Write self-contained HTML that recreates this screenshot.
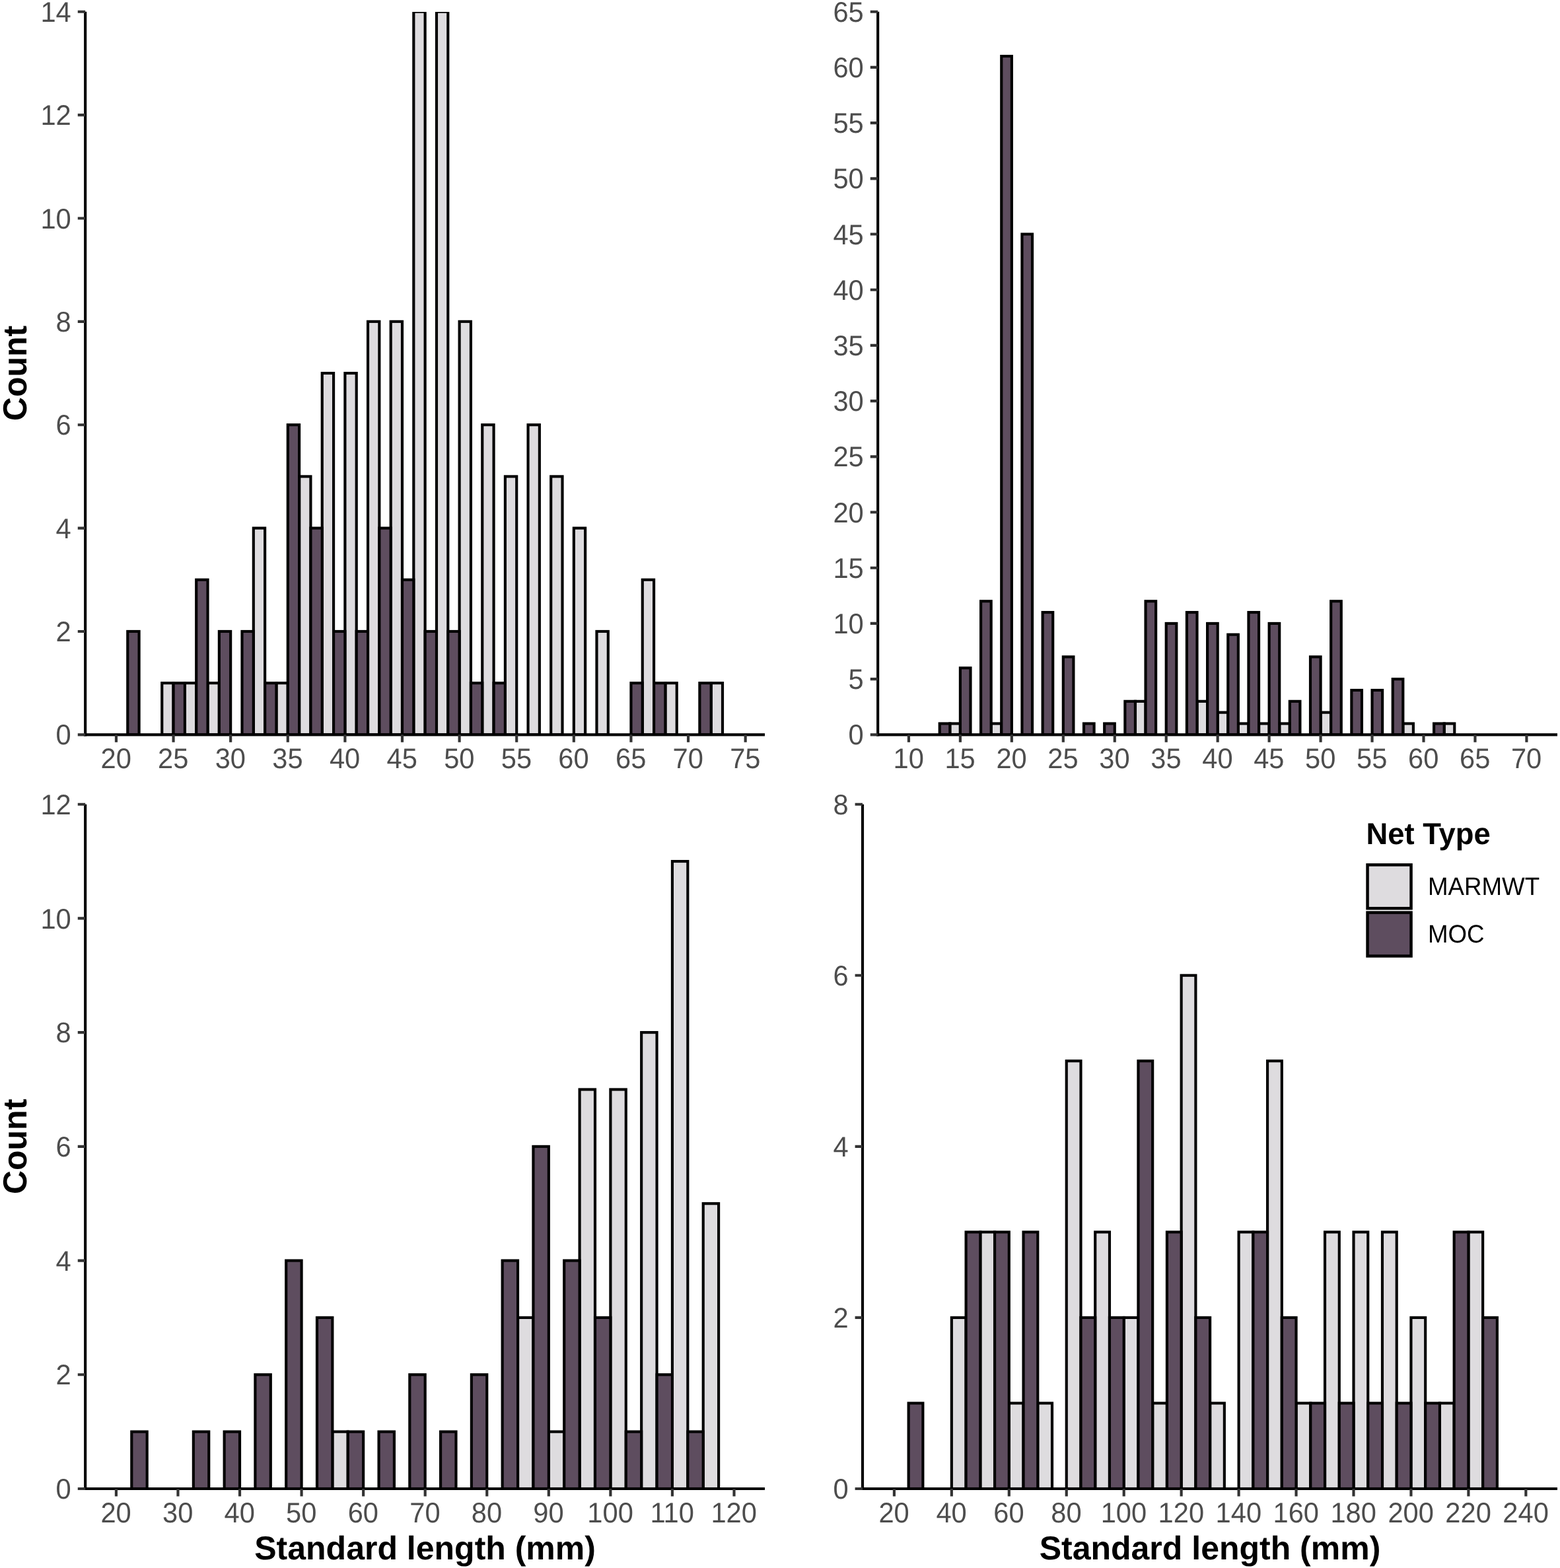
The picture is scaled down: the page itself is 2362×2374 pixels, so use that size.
<!DOCTYPE html>
<html lang="en">
<head>
<meta charset="utf-8">
<title>Standard length histograms by net type</title>
<style>
html,body{margin:0;padding:0;background:#fff;}
body{width:2362px;height:2374px;overflow:hidden;}
svg{display:block;}
text{font-family:"Liberation Sans",sans-serif;text-rendering:geometricPrecision;}
.t{font-size:41.67px;fill:#4D4D4D;}
.h{font-size:50px;font-weight:bold;fill:#000;}
.b rect{stroke:#000;stroke-width:4.15;stroke-linejoin:miter;}
.m{fill:#DEDCDF;}
.o{fill:#5E4D5F;}
.a{stroke:#000;stroke-width:4.15;fill:none;stroke-linecap:butt;}
.k{stroke:#333333;stroke-width:4.15;fill:none;}
</style>
</head>
<body>
<svg width="2362" height="2374" viewBox="0 0 2362 2374" role="img" aria-label="Histograms of standard length (mm) by net type">
<rect x="0" y="0" width="2362" height="2374" fill="#fff"/>
<g id="panel1">
<clipPath id="c1"><rect x="129.15" y="18" width="1028.85" height="1094.35"/></clipPath>
<g class="b" clip-path="url(#c1)">
<rect class="m" x="245.24" y="1034.16" width="17.32" height="78.19"/>
<rect class="m" x="279.88" y="1034.16" width="17.32" height="78.19"/>
<rect class="m" x="314.53" y="1034.16" width="17.32" height="78.19"/>
<rect class="m" x="383.81" y="799.59" width="17.32" height="312.76"/>
<rect class="m" x="418.46" y="1034.16" width="17.32" height="78.19"/>
<rect class="m" x="453.1" y="721.4" width="17.32" height="390.95"/>
<rect class="m" x="487.75" y="565.02" width="17.32" height="547.32"/>
<rect class="m" x="522.39" y="565.02" width="17.32" height="547.32"/>
<rect class="m" x="557.03" y="486.84" width="17.32" height="625.51"/>
<rect class="m" x="591.68" y="486.84" width="17.32" height="625.51"/>
<rect class="m" x="626.32" y="17.7" width="17.32" height="1094.65"/>
<rect class="m" x="660.97" y="17.7" width="17.32" height="1094.65"/>
<rect class="m" x="695.61" y="486.84" width="17.32" height="625.51"/>
<rect class="m" x="730.25" y="643.21" width="17.32" height="469.14"/>
<rect class="m" x="764.9" y="721.4" width="17.32" height="390.95"/>
<rect class="m" x="799.54" y="643.21" width="17.32" height="469.14"/>
<rect class="m" x="834.19" y="721.4" width="17.32" height="390.95"/>
<rect class="m" x="868.83" y="799.59" width="17.32" height="312.76"/>
<rect class="m" x="903.47" y="955.97" width="17.32" height="156.38"/>
<rect class="m" x="972.76" y="877.78" width="17.32" height="234.57"/>
<rect class="m" x="1007.41" y="1034.16" width="17.32" height="78.19"/>
<rect class="m" x="1076.69" y="1034.16" width="17.32" height="78.19"/>
<rect class="o" x="193.27" y="955.97" width="17.32" height="156.38"/>
<rect class="o" x="262.56" y="1034.16" width="17.32" height="78.19"/>
<rect class="o" x="297.2" y="877.78" width="17.32" height="234.57"/>
<rect class="o" x="331.85" y="955.97" width="17.32" height="156.38"/>
<rect class="o" x="366.49" y="955.97" width="17.32" height="156.38"/>
<rect class="o" x="401.14" y="1034.16" width="17.32" height="78.19"/>
<rect class="o" x="435.78" y="643.21" width="17.32" height="469.14"/>
<rect class="o" x="470.42" y="799.59" width="17.32" height="312.76"/>
<rect class="o" x="505.07" y="955.97" width="17.32" height="156.38"/>
<rect class="o" x="539.71" y="955.97" width="17.32" height="156.38"/>
<rect class="o" x="574.36" y="799.59" width="17.32" height="312.76"/>
<rect class="o" x="609" y="877.78" width="17.32" height="234.57"/>
<rect class="o" x="643.64" y="955.97" width="17.32" height="156.38"/>
<rect class="o" x="678.29" y="955.97" width="17.32" height="156.38"/>
<rect class="o" x="712.93" y="1034.16" width="17.32" height="78.19"/>
<rect class="o" x="747.58" y="1034.16" width="17.32" height="78.19"/>
<rect class="o" x="955.44" y="1034.16" width="17.32" height="78.19"/>
<rect class="o" x="990.08" y="1034.16" width="17.32" height="78.19"/>
<rect class="o" x="1059.37" y="1034.16" width="17.32" height="78.19"/>
</g>
<path class="a" d="M129.15 17.7V1114.42"/>
<path class="a" d="M127.08 1112.35H1158"/>
<path class="k" d="M175.95 1112.35v11.4M262.56 1112.35v11.4M349.17 1112.35v11.4M435.78 1112.35v11.4M522.39 1112.35v11.4M609 1112.35v11.4M695.61 1112.35v11.4M782.22 1112.35v11.4M868.83 1112.35v11.4M955.44 1112.35v11.4M1042.05 1112.35v11.4M1128.66 1112.35v11.4M129.15 1112.35h-11.4M129.15 955.97h-11.4M129.15 799.59h-11.4M129.15 643.21h-11.4M129.15 486.84h-11.4M129.15 330.46h-11.4M129.15 174.08h-11.4M129.15 17.7h-11.4"/>
<text class="t" text-anchor="middle" transform="translate(175.65 1162.75) scale(1 1.03)">20</text>
<text class="t" text-anchor="middle" transform="translate(262.26 1162.75) scale(1 1.03)">25</text>
<text class="t" text-anchor="middle" transform="translate(348.87 1162.75) scale(1 1.03)">30</text>
<text class="t" text-anchor="middle" transform="translate(435.48 1162.75) scale(1 1.03)">35</text>
<text class="t" text-anchor="middle" transform="translate(522.09 1162.75) scale(1 1.03)">40</text>
<text class="t" text-anchor="middle" transform="translate(608.7 1162.75) scale(1 1.03)">45</text>
<text class="t" text-anchor="middle" transform="translate(695.31 1162.75) scale(1 1.03)">50</text>
<text class="t" text-anchor="middle" transform="translate(781.92 1162.75) scale(1 1.03)">55</text>
<text class="t" text-anchor="middle" transform="translate(868.53 1162.75) scale(1 1.03)">60</text>
<text class="t" text-anchor="middle" transform="translate(955.14 1162.75) scale(1 1.03)">65</text>
<text class="t" text-anchor="middle" transform="translate(1041.75 1162.75) scale(1 1.03)">70</text>
<text class="t" text-anchor="middle" transform="translate(1128.36 1162.75) scale(1 1.03)">75</text>
<text class="t" text-anchor="end" transform="translate(107.75 1127.45) scale(1 1.03)">0</text>
<text class="t" text-anchor="end" transform="translate(107.75 971.07) scale(1 1.03)">2</text>
<text class="t" text-anchor="end" transform="translate(107.75 814.69) scale(1 1.03)">4</text>
<text class="t" text-anchor="end" transform="translate(107.75 658.31) scale(1 1.03)">6</text>
<text class="t" text-anchor="end" transform="translate(107.75 501.94) scale(1 1.03)">8</text>
<text class="t" text-anchor="end" transform="translate(107.75 345.56) scale(1 1.03)">10</text>
<text class="t" text-anchor="end" transform="translate(107.75 189.18) scale(1 1.03)">12</text>
<text class="t" text-anchor="end" transform="translate(107.75 32.8) scale(1 1.03)">14</text>
</g>
<g id="panel2">
<clipPath id="c2"><rect x="1329.15" y="18" width="1028.85" height="1094.35"/></clipPath>
<g class="b" clip-path="url(#c2)">
<rect class="m" x="1438.31" y="1095.51" width="15.59" height="16.84"/>
<rect class="m" x="1500.68" y="1095.51" width="15.59" height="16.84"/>
<rect class="m" x="1718.95" y="1061.83" width="15.59" height="50.52"/>
<rect class="m" x="1812.5" y="1061.83" width="15.59" height="50.52"/>
<rect class="m" x="1843.68" y="1078.67" width="15.59" height="33.68"/>
<rect class="m" x="1874.86" y="1095.51" width="15.59" height="16.84"/>
<rect class="m" x="1906.04" y="1095.51" width="15.59" height="16.84"/>
<rect class="m" x="1937.23" y="1095.51" width="15.59" height="16.84"/>
<rect class="m" x="1999.59" y="1078.67" width="15.59" height="33.68"/>
<rect class="m" x="2124.32" y="1095.51" width="15.59" height="16.84"/>
<rect class="m" x="2186.68" y="1095.51" width="15.59" height="16.84"/>
<rect class="o" x="1422.72" y="1095.51" width="15.59" height="16.84"/>
<rect class="o" x="1453.9" y="1011.31" width="15.59" height="101.04"/>
<rect class="o" x="1485.09" y="910.26" width="15.59" height="202.09"/>
<rect class="o" x="1516.27" y="85.06" width="15.59" height="1027.29"/>
<rect class="o" x="1547.45" y="354.52" width="15.59" height="757.83"/>
<rect class="o" x="1578.63" y="927.1" width="15.59" height="185.25"/>
<rect class="o" x="1609.82" y="994.46" width="15.59" height="117.89"/>
<rect class="o" x="1641" y="1095.51" width="15.59" height="16.84"/>
<rect class="o" x="1672.18" y="1095.51" width="15.59" height="16.84"/>
<rect class="o" x="1703.36" y="1061.83" width="15.59" height="50.52"/>
<rect class="o" x="1734.54" y="910.26" width="15.59" height="202.09"/>
<rect class="o" x="1765.72" y="943.94" width="15.59" height="168.41"/>
<rect class="o" x="1796.91" y="927.1" width="15.59" height="185.25"/>
<rect class="o" x="1828.09" y="943.94" width="15.59" height="168.41"/>
<rect class="o" x="1859.27" y="960.78" width="15.59" height="151.57"/>
<rect class="o" x="1890.45" y="927.1" width="15.59" height="185.25"/>
<rect class="o" x="1921.63" y="943.94" width="15.59" height="168.41"/>
<rect class="o" x="1952.82" y="1061.83" width="15.59" height="50.52"/>
<rect class="o" x="1984" y="994.46" width="15.59" height="117.89"/>
<rect class="o" x="2015.18" y="910.26" width="15.59" height="202.09"/>
<rect class="o" x="2046.36" y="1044.99" width="15.59" height="67.36"/>
<rect class="o" x="2077.55" y="1044.99" width="15.59" height="67.36"/>
<rect class="o" x="2108.73" y="1028.15" width="15.59" height="84.2"/>
<rect class="o" x="2171.09" y="1095.51" width="15.59" height="16.84"/>
</g>
<path class="a" d="M1329.15 17.7V1114.42"/>
<path class="a" d="M1327.08 1112.35H2358"/>
<path class="k" d="M1375.95 1112.35v11.4M1453.9 1112.35v11.4M1531.86 1112.35v11.4M1609.82 1112.35v11.4M1687.77 1112.35v11.4M1765.72 1112.35v11.4M1843.68 1112.35v11.4M1921.63 1112.35v11.4M1999.59 1112.35v11.4M2077.55 1112.35v11.4M2155.5 1112.35v11.4M2233.45 1112.35v11.4M2311.41 1112.35v11.4M1329.15 1112.35h-11.4M1329.15 1028.15h-11.4M1329.15 943.94h-11.4M1329.15 859.74h-11.4M1329.15 775.53h-11.4M1329.15 691.33h-11.4M1329.15 607.13h-11.4M1329.15 522.92h-11.4M1329.15 438.72h-11.4M1329.15 354.52h-11.4M1329.15 270.31h-11.4M1329.15 186.11h-11.4M1329.15 101.9h-11.4M1329.15 17.7h-11.4"/>
<text class="t" text-anchor="middle" transform="translate(1375.65 1162.75) scale(1 1.03)">10</text>
<text class="t" text-anchor="middle" transform="translate(1453.61 1162.75) scale(1 1.03)">15</text>
<text class="t" text-anchor="middle" transform="translate(1531.56 1162.75) scale(1 1.03)">20</text>
<text class="t" text-anchor="middle" transform="translate(1609.52 1162.75) scale(1 1.03)">25</text>
<text class="t" text-anchor="middle" transform="translate(1687.47 1162.75) scale(1 1.03)">30</text>
<text class="t" text-anchor="middle" transform="translate(1765.42 1162.75) scale(1 1.03)">35</text>
<text class="t" text-anchor="middle" transform="translate(1843.38 1162.75) scale(1 1.03)">40</text>
<text class="t" text-anchor="middle" transform="translate(1921.34 1162.75) scale(1 1.03)">45</text>
<text class="t" text-anchor="middle" transform="translate(1999.29 1162.75) scale(1 1.03)">50</text>
<text class="t" text-anchor="middle" transform="translate(2077.24 1162.75) scale(1 1.03)">55</text>
<text class="t" text-anchor="middle" transform="translate(2155.2 1162.75) scale(1 1.03)">60</text>
<text class="t" text-anchor="middle" transform="translate(2233.15 1162.75) scale(1 1.03)">65</text>
<text class="t" text-anchor="middle" transform="translate(2311.11 1162.75) scale(1 1.03)">70</text>
<text class="t" text-anchor="end" transform="translate(1307.75 1127.45) scale(1 1.03)">0</text>
<text class="t" text-anchor="end" transform="translate(1307.75 1043.25) scale(1 1.03)">5</text>
<text class="t" text-anchor="end" transform="translate(1307.75 959.04) scale(1 1.03)">10</text>
<text class="t" text-anchor="end" transform="translate(1307.75 874.84) scale(1 1.03)">15</text>
<text class="t" text-anchor="end" transform="translate(1307.75 790.63) scale(1 1.03)">20</text>
<text class="t" text-anchor="end" transform="translate(1307.75 706.43) scale(1 1.03)">25</text>
<text class="t" text-anchor="end" transform="translate(1307.75 622.23) scale(1 1.03)">30</text>
<text class="t" text-anchor="end" transform="translate(1307.75 538.02) scale(1 1.03)">35</text>
<text class="t" text-anchor="end" transform="translate(1307.75 453.82) scale(1 1.03)">40</text>
<text class="t" text-anchor="end" transform="translate(1307.75 369.62) scale(1 1.03)">45</text>
<text class="t" text-anchor="end" transform="translate(1307.75 285.41) scale(1 1.03)">50</text>
<text class="t" text-anchor="end" transform="translate(1307.75 201.21) scale(1 1.03)">55</text>
<text class="t" text-anchor="end" transform="translate(1307.75 117) scale(1 1.03)">60</text>
<text class="t" text-anchor="end" transform="translate(1307.75 32.8) scale(1 1.03)">65</text>
</g>
<g id="panel3">
<clipPath id="c3"><rect x="129.15" y="1218" width="1028.85" height="1036"/></clipPath>
<g class="b" clip-path="url(#c3)">
<rect class="m" x="503.36" y="2167.64" width="23.39" height="86.36"/>
<rect class="m" x="784.04" y="1994.92" width="23.39" height="259.07"/>
<rect class="m" x="830.82" y="2167.64" width="23.39" height="86.36"/>
<rect class="m" x="877.6" y="1649.49" width="23.39" height="604.51"/>
<rect class="m" x="924.38" y="1649.49" width="23.39" height="604.51"/>
<rect class="m" x="971.16" y="1563.13" width="23.39" height="690.87"/>
<rect class="m" x="1017.94" y="1304.06" width="23.39" height="949.94"/>
<rect class="m" x="1064.72" y="1822.21" width="23.39" height="431.79"/>
<rect class="o" x="199.29" y="2167.64" width="23.39" height="86.36"/>
<rect class="o" x="292.85" y="2167.64" width="23.39" height="86.36"/>
<rect class="o" x="339.63" y="2167.64" width="23.39" height="86.36"/>
<rect class="o" x="386.41" y="2081.28" width="23.39" height="172.72"/>
<rect class="o" x="433.19" y="1908.57" width="23.39" height="345.43"/>
<rect class="o" x="479.97" y="1994.92" width="23.39" height="259.07"/>
<rect class="o" x="526.75" y="2167.64" width="23.39" height="86.36"/>
<rect class="o" x="573.53" y="2167.64" width="23.39" height="86.36"/>
<rect class="o" x="620.31" y="2081.28" width="23.39" height="172.72"/>
<rect class="o" x="667.09" y="2167.64" width="23.39" height="86.36"/>
<rect class="o" x="713.87" y="2081.28" width="23.39" height="172.72"/>
<rect class="o" x="760.65" y="1908.57" width="23.39" height="345.43"/>
<rect class="o" x="807.43" y="1735.85" width="23.39" height="518.15"/>
<rect class="o" x="854.21" y="1908.57" width="23.39" height="345.43"/>
<rect class="o" x="900.99" y="1994.92" width="23.39" height="259.07"/>
<rect class="o" x="947.77" y="2167.64" width="23.39" height="86.36"/>
<rect class="o" x="994.55" y="2081.28" width="23.39" height="172.72"/>
<rect class="o" x="1041.33" y="2167.64" width="23.39" height="86.36"/>
</g>
<path class="a" d="M129.15 1217.7V2256.07"/>
<path class="a" d="M127.08 2254H1158"/>
<path class="k" d="M175.9 2254v11.4M269.46 2254v11.4M363.02 2254v11.4M456.58 2254v11.4M550.14 2254v11.4M643.7 2254v11.4M737.26 2254v11.4M830.82 2254v11.4M924.38 2254v11.4M1017.94 2254v11.4M1111.5 2254v11.4M129.15 2254h-11.4M129.15 2081.28h-11.4M129.15 1908.57h-11.4M129.15 1735.85h-11.4M129.15 1563.13h-11.4M129.15 1390.42h-11.4M129.15 1217.7h-11.4"/>
<text class="t" text-anchor="middle" transform="translate(175.6 2304.75) scale(1 1.03)">20</text>
<text class="t" text-anchor="middle" transform="translate(269.16 2304.75) scale(1 1.03)">30</text>
<text class="t" text-anchor="middle" transform="translate(362.72 2304.75) scale(1 1.03)">40</text>
<text class="t" text-anchor="middle" transform="translate(456.28 2304.75) scale(1 1.03)">50</text>
<text class="t" text-anchor="middle" transform="translate(549.84 2304.75) scale(1 1.03)">60</text>
<text class="t" text-anchor="middle" transform="translate(643.4 2304.75) scale(1 1.03)">70</text>
<text class="t" text-anchor="middle" transform="translate(736.96 2304.75) scale(1 1.03)">80</text>
<text class="t" text-anchor="middle" transform="translate(830.52 2304.75) scale(1 1.03)">90</text>
<text class="t" text-anchor="middle" transform="translate(924.08 2304.75) scale(1 1.03)">100</text>
<text class="t" text-anchor="middle" transform="translate(1017.64 2304.75) scale(1 1.03)">110</text>
<text class="t" text-anchor="middle" transform="translate(1111.2 2304.75) scale(1 1.03)">120</text>
<text class="t" text-anchor="end" transform="translate(107.75 2269.1) scale(1 1.03)">0</text>
<text class="t" text-anchor="end" transform="translate(107.75 2096.38) scale(1 1.03)">2</text>
<text class="t" text-anchor="end" transform="translate(107.75 1923.67) scale(1 1.03)">4</text>
<text class="t" text-anchor="end" transform="translate(107.75 1750.95) scale(1 1.03)">6</text>
<text class="t" text-anchor="end" transform="translate(107.75 1578.23) scale(1 1.03)">8</text>
<text class="t" text-anchor="end" transform="translate(107.75 1405.52) scale(1 1.03)">10</text>
<text class="t" text-anchor="end" transform="translate(107.75 1232.8) scale(1 1.03)">12</text>
</g>
<g id="panel4">
<clipPath id="c4"><rect x="1306" y="1218" width="1052" height="1036"/></clipPath>
<g class="b" clip-path="url(#c4)">
<rect class="m" x="1440.85" y="1994.92" width="21.74" height="259.07"/>
<rect class="m" x="1484.33" y="1865.39" width="21.74" height="388.61"/>
<rect class="m" x="1527.8" y="2124.46" width="21.74" height="129.54"/>
<rect class="m" x="1571.28" y="2124.46" width="21.74" height="129.54"/>
<rect class="m" x="1614.75" y="1606.31" width="21.74" height="647.69"/>
<rect class="m" x="1658.23" y="1865.39" width="21.74" height="388.61"/>
<rect class="m" x="1701.7" y="1994.92" width="21.74" height="259.07"/>
<rect class="m" x="1745.18" y="2124.46" width="21.74" height="129.54"/>
<rect class="m" x="1788.65" y="1476.78" width="21.74" height="777.22"/>
<rect class="m" x="1832.12" y="2124.46" width="21.74" height="129.54"/>
<rect class="m" x="1875.6" y="1865.39" width="21.74" height="388.61"/>
<rect class="m" x="1919.08" y="1606.31" width="21.74" height="647.69"/>
<rect class="m" x="1962.55" y="2124.46" width="21.74" height="129.54"/>
<rect class="m" x="2006.03" y="1865.39" width="21.74" height="388.61"/>
<rect class="m" x="2049.5" y="1865.39" width="21.74" height="388.61"/>
<rect class="m" x="2092.98" y="1865.39" width="21.74" height="388.61"/>
<rect class="m" x="2136.45" y="1994.92" width="21.74" height="259.07"/>
<rect class="m" x="2179.93" y="2124.46" width="21.74" height="129.54"/>
<rect class="m" x="2223.4" y="1865.39" width="21.74" height="388.61"/>
<rect class="o" x="1375.64" y="2124.46" width="21.74" height="129.54"/>
<rect class="o" x="1462.59" y="1865.39" width="21.74" height="388.61"/>
<rect class="o" x="1506.06" y="1865.39" width="21.74" height="388.61"/>
<rect class="o" x="1549.54" y="1865.39" width="21.74" height="388.61"/>
<rect class="o" x="1636.49" y="1994.92" width="21.74" height="259.07"/>
<rect class="o" x="1679.96" y="1994.92" width="21.74" height="259.07"/>
<rect class="o" x="1723.44" y="1606.31" width="21.74" height="647.69"/>
<rect class="o" x="1766.91" y="1865.39" width="21.74" height="388.61"/>
<rect class="o" x="1810.39" y="1994.92" width="21.74" height="259.07"/>
<rect class="o" x="1897.34" y="1865.39" width="21.74" height="388.61"/>
<rect class="o" x="1940.81" y="1994.92" width="21.74" height="259.07"/>
<rect class="o" x="1984.29" y="2124.46" width="21.74" height="129.54"/>
<rect class="o" x="2027.76" y="2124.46" width="21.74" height="129.54"/>
<rect class="o" x="2071.24" y="2124.46" width="21.74" height="129.54"/>
<rect class="o" x="2114.71" y="2124.46" width="21.74" height="129.54"/>
<rect class="o" x="2158.19" y="2124.46" width="21.74" height="129.54"/>
<rect class="o" x="2201.66" y="1865.39" width="21.74" height="388.61"/>
<rect class="o" x="2245.14" y="1994.92" width="21.74" height="259.07"/>
</g>
<path class="a" d="M1306 1217.7V2256.07"/>
<path class="a" d="M1303.92 2254H2358"/>
<path class="k" d="M1353.9 2254v11.4M1440.85 2254v11.4M1527.8 2254v11.4M1614.75 2254v11.4M1701.7 2254v11.4M1788.65 2254v11.4M1875.6 2254v11.4M1962.55 2254v11.4M2049.5 2254v11.4M2136.45 2254v11.4M2223.4 2254v11.4M2310.35 2254v11.4M1306 2254h-11.4M1306 1994.92h-11.4M1306 1735.85h-11.4M1306 1476.78h-11.4M1306 1217.7h-11.4"/>
<text class="t" text-anchor="middle" transform="translate(1353.6 2304.75) scale(1 1.03)">20</text>
<text class="t" text-anchor="middle" transform="translate(1440.55 2304.75) scale(1 1.03)">40</text>
<text class="t" text-anchor="middle" transform="translate(1527.5 2304.75) scale(1 1.03)">60</text>
<text class="t" text-anchor="middle" transform="translate(1614.45 2304.75) scale(1 1.03)">80</text>
<text class="t" text-anchor="middle" transform="translate(1701.4 2304.75) scale(1 1.03)">100</text>
<text class="t" text-anchor="middle" transform="translate(1788.35 2304.75) scale(1 1.03)">120</text>
<text class="t" text-anchor="middle" transform="translate(1875.3 2304.75) scale(1 1.03)">140</text>
<text class="t" text-anchor="middle" transform="translate(1962.25 2304.75) scale(1 1.03)">160</text>
<text class="t" text-anchor="middle" transform="translate(2049.2 2304.75) scale(1 1.03)">180</text>
<text class="t" text-anchor="middle" transform="translate(2136.15 2304.75) scale(1 1.03)">200</text>
<text class="t" text-anchor="middle" transform="translate(2223.1 2304.75) scale(1 1.03)">220</text>
<text class="t" text-anchor="middle" transform="translate(2310.05 2304.75) scale(1 1.03)">240</text>
<text class="t" text-anchor="end" transform="translate(1284.6 2269.1) scale(1 1.03)">0</text>
<text class="t" text-anchor="end" transform="translate(1284.6 2010.02) scale(1 1.03)">2</text>
<text class="t" text-anchor="end" transform="translate(1284.6 1750.95) scale(1 1.03)">4</text>
<text class="t" text-anchor="end" transform="translate(1284.6 1491.88) scale(1 1.03)">6</text>
<text class="t" text-anchor="end" transform="translate(1284.6 1232.8) scale(1 1.03)">8</text>
</g>
<text class="h" text-anchor="middle" transform="translate(39.8 565) rotate(-90) scale(1 1.01)">Count</text>
<text class="h" text-anchor="middle" transform="translate(39.8 1735.9) rotate(-90) scale(1 1.01)">Count</text>
<text class="h" text-anchor="middle" transform="translate(643.6 2361.2) scale(1 1.0)">Standard length (mm)</text>
<text class="h" text-anchor="middle" transform="translate(1832 2361.2) scale(1 1.0)">Standard length (mm)</text>
<g id="legend">
<text class="h" style="font-size:45.4px" transform="translate(2068.5 1278) scale(1 1.012)">Net Type</text>
<g class="b" style="stroke-width:4.5"><rect class="m" style="stroke-width:4.5" x="2070.55" y="1309.4" width="66" height="65.9"/><rect class="o" style="stroke-width:4.5" x="2070.55" y="1381.6" width="66" height="65.9"/></g>
<text transform="translate(2162 1355) scale(1 1.04)" style="font-size:36.7px;fill:#000">MARMWT</text>
<text transform="translate(2162 1427) scale(1 1.04)" style="font-size:36.7px;fill:#000">MOC</text>
</g>
</svg>
</body>
</html>
